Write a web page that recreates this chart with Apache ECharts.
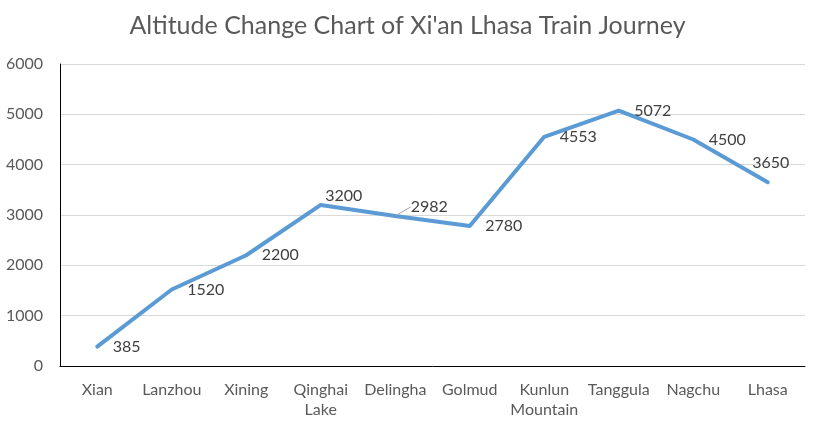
<!DOCTYPE html>
<html>
<head>
<meta charset="utf-8">
<script src="https://cdn.jsdelivr.net/npm/echarts@6/dist/echarts.min.js"></script>
<style>html,body{margin:0;padding:0;background:#fff}#c{width:815px;height:431px}</style>
</head>
<body>
<div id="c"></div>
<script>
const titleText = "Altitude Change Chart of Xi'an Lhasa Train Journey";
const categories = ["Xian", "Lanzhou", "Xining", "Qinghai Lake", "Delingha", "Golmud", "Kunlun Mountain", "Tanggula", "Nagchu", "Lhasa"];
const altitudes = [385, 1520, 2200, 3200, 2982, 2780, 4553, 5072, 4500, 3650];
const yTicks = [0, 1000, 2000, 3000, 4000, 5000, 6000];

const FONT = "Lato";
const labelMoves = {3: [-11, -9], 4: [0, -9], 9: [-31, -19]};

const data = altitudes.map((v, i) => {
  const item = {value: v};
  if (i === 4) item.labelLine = {show: true};
  return item;
});

const chart = echarts.init(document.getElementById('c'));
chart.setOption({
  animation: false,
  backgroundColor: '#fff',
  title: {
    text: titleText, left: 'center', top: 8,
    textStyle: {fontFamily: FONT, fontSize: 25, fontWeight: 'normal', color: '#595959'}
  },
  grid: {left: 60, right: 10, top: 64, bottom: 65},
  xAxis: {
    type: 'category', data: categories, boundaryGap: true,
    axisLine: {lineStyle: {color: '#000', width: 1}},
    axisTick: {show: false},
    axisLabel: {
      interval: 0, margin: 14, color: '#595959', fontFamily: FONT, fontSize: 16, lineHeight: 20,
      formatter: v => v.replace(' ', '\n')
    }
  },
  yAxis: {
    type: 'value', min: yTicks[0], max: yTicks[yTicks.length - 1], interval: 1000,
    axisLine: {show: true, lineStyle: {color: '#000', width: 1}},
    axisTick: {show: false},
    splitLine: {lineStyle: {color: '#d9d9d9', width: 1}},
    axisLabel: {margin: 17, color: '#595959', fontFamily: FONT, fontSize: 16, formatter: v => String(v)}
  },
  series: [{
    type: 'line', data: data, symbol: 'circle', symbolSize: 1, showSymbol: true,
    itemStyle: {color: 'rgba(0,0,0,0)', borderWidth: 0},
    lineStyle: {color: '#5b9bd5', width: 4, cap: 'round', join: 'round'},
    label: {show: true, position: 'right', distance: 15, color: '#404040', fontFamily: FONT, fontSize: 16},
    labelLine: {show: false, lineStyle: {color: '#a6a6a6', width: 1}, length2: 0},
    labelLayout: p => {
      const m = labelMoves[p.dataIndex];
      return m ? {dx: m[0], dy: m[1]} : {};
    }
  }]
});
</script>
</body>
</html>
